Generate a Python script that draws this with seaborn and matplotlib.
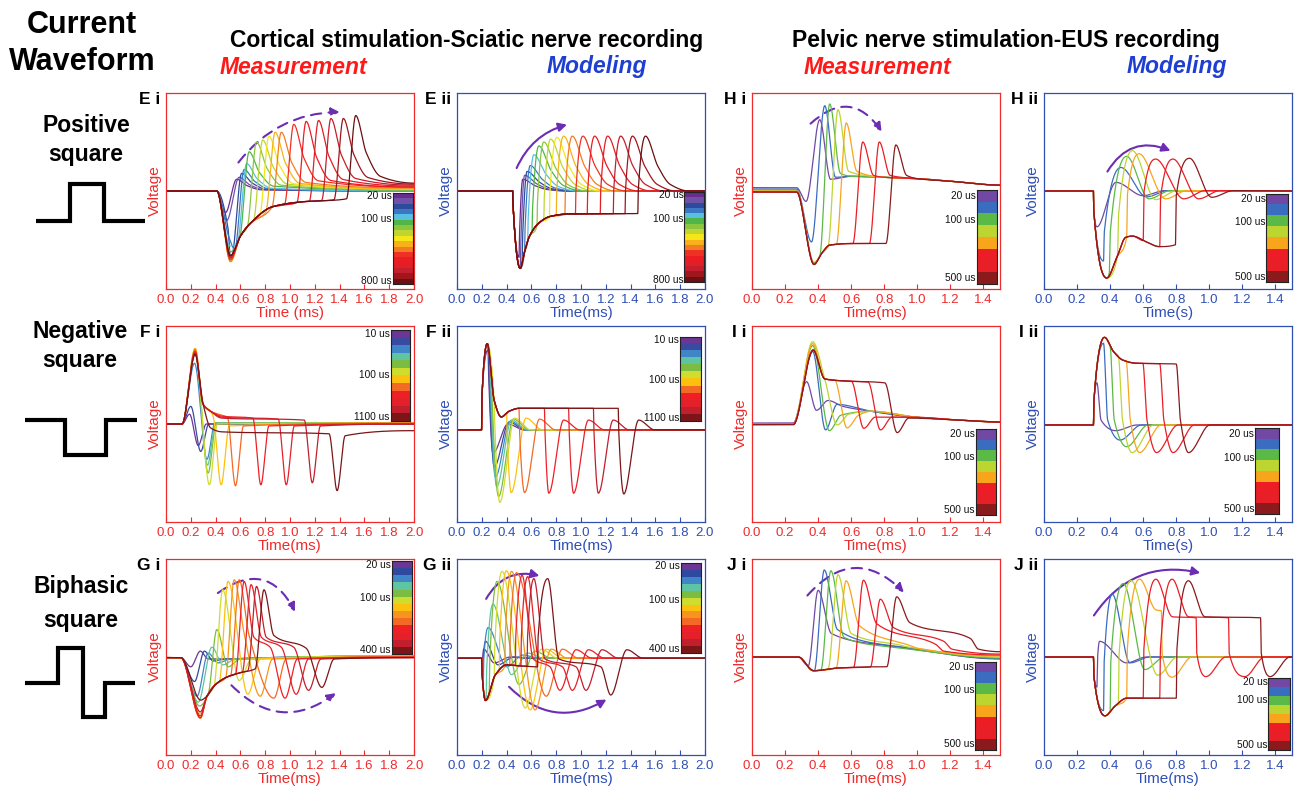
import numpy as np
import pandas as pd
import seaborn as sns
import matplotlib
matplotlib.use("Agg")
import matplotlib.pyplot as plt
from matplotlib.colors import ListedColormap
from matplotlib.patches import FancyArrowPatch
from matplotlib.ticker import FormatStrFormatter

sns.set_theme(style="white")
plt.rcParams["font.family"] = ["Liberation Sans", "DejaVu Sans"]
plt.rcParams["text.color"] = "black"

RED = "#ef2b2b"
BLUE = "#2f4fb5"
ARROW = "#6a2db3"
nan = float("nan")

# ---------------- palettes (pulse-width colour scales) ----------------
PAL17 = ["#6a2c91", "#6e52a8", "#2d4a9c", "#3b78c3", "#58bfe0", "#4fb647", "#8cc63f", "#bed62f", "#f6e617",
         "#f9b11b", "#f47c20", "#ee3124", "#ec1c24", "#e01f26", "#c51f2d", "#a0161d", "#6b1012"]
PAL8 = ["#7148a3", "#3a6cc0", "#5ab947", "#bdd531", "#f8a51c", "#ec1d24", "#e81f27", "#8b1a1d"]
PAL12 = ["#6c3694", "#3a4aa0", "#3f86c8", "#5ec4a1", "#7bbd42", "#cfdd2f", "#fcc10f", "#f26a23", "#ee2025",
         "#e4212a", "#c11f2e", "#7c1517"]
PAL13 = ["#6c3694", "#2f49a0", "#3f86c8", "#5ec4a1", "#7bbd42", "#cfdd2f", "#fcc10f", "#f7941d", "#f26a23",
         "#ee2025", "#e4212a", "#c11f2e", "#7c1517"]

# ---------------- data (time in ms, voltage as fraction of panel height) ----------------
# E i : cortical, positive square, measurement
EI_PEAK_T = [0.57, 0.59, 0.61, 0.63, 0.65, 0.67, 0.73, 0.78, 0.83, 0.88, 0.93, 1.03, 1.13, 1.23, 1.33, 1.43, 1.53]
EI_PEAK_V = [0.56, 0.57, 0.59, 0.61, 0.64, 0.70, 0.75, 0.76, 0.78, 0.80, 0.80, 0.84, 0.855, 0.86, 0.87, 0.87, 0.885]
EI_DIP_T = [0.48, 0.49, 0.50, 0.51, 0.515, 0.52, 0.52, 0.52, 0.52, 0.52, 0.52, 0.52, 0.52, 0.52, 0.52, 0.52, 0.52]
EI_DIP_V = [0.39, 0.35, 0.31, 0.26, 0.22, 0.19, 0.17, 0.16, 0.15, 0.14, 0.14, 0.15, 0.16, 0.16, 0.17, 0.17, 0.17]
EI_TAIL_V = [0.50, 0.50, 0.50, 0.50, 0.50, 0.505, 0.505, 0.51, 0.51, 0.51, 0.515, 0.52, 0.52, 0.525, 0.53, 0.535, 0.54]
EI_ENV_T = [0.52, 0.60, 0.68, 0.86, 1.10, 1.46]
EI_ENV_V = [0.15, 0.27, 0.335, 0.42, 0.445, 0.46]

# E ii : cortical, positive square, model
EII_END_T = [0.50, 0.51, 0.525, 0.545, 0.57, 0.605, 0.645, 0.70, 0.745, 0.80, 0.87, 0.955, 1.05, 1.155, 1.26, 1.355, 1.458]
EII_PEAK_T = [0.53, 0.545, 0.565, 0.59, 0.62, 0.66, 0.70, 0.755, 0.805, 0.86, 0.93, 1.015, 1.11, 1.215, 1.32, 1.415, 1.52]
EII_PEAK_V = [0.56, 0.58, 0.60, 0.63, 0.685, 0.73, 0.75, 0.765, 0.774, 0.78, 0.78, 0.78, 0.78, 0.78, 0.78, 0.78, 0.78]
EII_ENV_T = [0.451, 0.51, 0.545, 0.585, 0.666, 0.75, 0.90, 1.46]
EII_ENV_V = [0.44, 0.105, 0.19, 0.27, 0.34, 0.37, 0.383, 0.385]

# H i : pelvic, positive square, measurement
HI_BASE = [0.517, 0.51, 0.505, 0.50, 0.50, 0.495, 0.495, 0.495]
HI_DIP_T = [0.327, 0.36, 0.375, 0.375, 0.375, 0.375, 0.375, 0.375]
HI_DIP_V = [0.447, 0.24, 0.135, 0.13, 0.13, 0.127, 0.125, 0.125]
HI_PEAK_T = [0.41, 0.44, 0.47, 0.52, 0.57, 0.67, 0.77, 0.87]
HI_PEAK_V = [0.864, 0.935, 0.944, 0.915, 0.847, 0.75, 0.75, 0.735]
HI_POST_V = [0.56, 0.57, 0.59, 0.60, 0.60, 0.58, 0.58, 0.58]
HI_ENV_T = [0.375, 0.42, 0.47, 0.60, 0.83]
HI_ENV_V = [0.127, 0.18, 0.224, 0.232, 0.232]
HI_TAIL_T = [0.6, 0.8, 1.0, 1.2, 1.5]
HI_TAIL_V = [0.575, 0.57, 0.563, 0.55, 0.53]

# H ii : pelvic, positive square, model
HII_END_T = [0.32, 0.36, 0.395, 0.445, 0.50, 0.60, 0.70, 0.795]
HII_JUMP = [0.0, 0.15, 0.2, 0.2, 0.22, 0.25, 0.25, 0.25]
HII_PEAK_T = [0.435, 0.465, 0.50, 0.535, 0.575, 0.675, 0.78, 0.88]
HII_PEAK_V = [0.544, 0.62, 0.677, 0.706, 0.69, 0.663, 0.663, 0.667]
HII_TR_T = [0.60, 0.62, 0.635, 0.675, 0.735, 0.845, 0.935, 1.015]
HII_TR_V = [0.476, 0.47, 0.46, 0.456, 0.46, 0.46, 0.46, 0.468]
HII_ENV_T = [0.301, 0.38, 0.44, 0.495, 0.535, 0.62, 0.695, 0.80]
HII_ENV_V = [0.40, 0.056, 0.16, 0.264, 0.27, 0.24, 0.216, 0.226]

# F i : cortical, negative square, measurement
FI_P1_T = [0.19, 0.20, 0.23, 0.235, 0.235, 0.235, 0.235, 0.235, 0.235, 0.235, 0.235, 0.235]
FI_P1_V = [0.55, 0.59, 0.81, 0.86, 0.875, 0.886, 0.886, 0.88, 0.87, 0.865, 0.86, 0.855]
FI_TR_T = [0.26, 0.28, 0.33, 0.335, 0.34, 0.35, 0.445, 0.56, 0.765, 0.97, 1.18, 1.38]
FI_TR_V = [0.39, 0.36, 0.32, 0.29, 0.25, 0.19, 0.19, 0.185, 0.19, 0.19, 0.20, 0.16]
FI_MID_V = [nan, nan, nan, nan, nan, nan, 0.565, 0.565, 0.565, 0.565, 0.565, 0.48]
FI_PLAT_V = [nan, nan, nan, nan, nan, nan, 0.55, 0.545, 0.54, 0.535, 0.53, 0.46]
FI_REC_V = [0.50, 0.50, 0.505, 0.505, 0.505, 0.50, 0.49, 0.49, 0.49, 0.49, 0.49, 0.44]
FI_END_V = [0.50, 0.50, 0.505, 0.505, 0.505, 0.505, 0.505, 0.505, 0.50, 0.50, 0.50, 0.466]

# F ii : cortical, negative square, model
FII_DROP_T = [0.25, 0.255, 0.262, 0.27, 0.28, 0.30, 0.40, 0.50, 0.705, 0.90, 1.10, 1.30]
FII_TR_T = [0.29, 0.30, 0.31, 0.32, 0.335, 0.345, 0.437, 0.545, 0.74, 0.94, 1.14, 1.345]
FII_TR_V = [0.35, 0.28, 0.23, 0.18, 0.13, 0.10, 0.15, 0.15, 0.147, 0.147, 0.147, 0.143]
FII_OS_V = [0.50, 0.51, 0.515, 0.52, 0.525, 0.53, 0.53, 0.525, 0.52, 0.52, 0.52, 0.52]
FII_ENV_T = [0.202, 0.244, 0.30, 0.357, 0.42, 0.50, 1.32]
FII_ENV_V = [0.65, 0.91, 0.62, 0.536, 0.565, 0.58, 0.58]

# I i : pelvic, negative square, measurement
II_BASE = [0.505, 0.50, 0.50, 0.498, 0.498, 0.497, 0.497, 0.497]
II_PEAK_T = [0.33, 0.367, 0.367, 0.367, 0.367, 0.37, 0.37, 0.37]
II_PEAK_V = [0.716, 0.87, 0.90, 0.92, 0.91, 0.88, 0.877, 0.875]
II_TR_T = [0.39, 0.445, 0.468, 0.515, 0.575, 0.676, 0.777, 0.878]
II_TR_V = [0.57, 0.47, 0.466, 0.495, 0.48, 0.478, 0.47, 0.456]
II_BUMP_V = [0.62, 0.60, 0.545, 0.55, 0.545, 0.535, 0.535, 0.53]
II_PLAT_T = [0.44, 0.55, 0.80]
II_PLAT_V = [0.73, 0.72, 0.71]
II_TAIL_T = [0.55, 0.72, 1.0, 1.25, 1.5]
II_TAIL_V = [0.59, 0.565, 0.534, 0.52, 0.51]

# I ii : pelvic, negative square, model
III_DROP_T = [0.32, 0.36, 0.40, 0.45, 0.497, 0.598, 0.70, 0.80]
III_TR_T = [0.433, 0.46, 0.50, 0.533, 0.578, 0.68, 0.78, 0.874]
III_TR_V = [0.466, 0.418, 0.384, 0.354, 0.354, 0.354, 0.354, 0.354]
III_ENV_T = [0.302, 0.366, 0.42, 0.477, 0.557, 0.80]
III_ENV_V = [0.62, 0.942, 0.87, 0.826, 0.81, 0.806]

# G i : cortical, biphasic, measurement
GI_DIP_T = [0.20, 0.23, 0.25, 0.26, 0.27, 0.277, 0.277, 0.277, 0.277, 0.277, 0.277, 0.277, 0.28]
GI_DIP_V = [0.45, 0.375, 0.30, 0.27, 0.25, 0.21, 0.19, 0.187, 0.19, 0.19, 0.20, 0.22, 0.28]
GI_PEAK_T = [0.277, 0.31, 0.34, 0.37, 0.41, 0.457, 0.50, 0.55, 0.59, 0.63, 0.686, 0.73, 0.79]
GI_PEAK_V = [0.53, 0.53, 0.52, 0.55, 0.64, 0.843, 0.886, 0.894, 0.894, 0.886, 0.869, 0.86, 0.843]
GI_TR_T = [0.34, 0.38, 0.42, 0.46, 0.50, 0.59, 0.66, 0.76, 0.87, 0.96, 1.05, 1.15, 1.257]
GI_TR_V = [0.49, 0.48, 0.47, 0.46, 0.45, 0.38, 0.31, 0.30, 0.29, 0.29, 0.31, 0.33, 0.345]
GI_SH_T = [nan] * 7 + [0.63, 0.67, 0.71, 0.77, 0.81, 0.87]
GI_SH_V = [nan] * 7 + [0.62, 0.61, 0.60, 0.60, 0.60, 0.61]
GI_SH2_T = [nan] * 9 + [0.84, 0.93, 1.03, 1.13]
GI_SH2_V = [nan] * 9 + [0.55, 0.55, 0.55, 0.545]
GI_END_V = [0.505, 0.505, 0.505, 0.505, 0.505, 0.505, 0.50, 0.50, 0.50, 0.50, 0.497, 0.497, 0.497]
GI_ENV_T = [0.277, 0.33, 0.40, 0.50, 0.60, 0.72]
GI_ENV_V = [0.19, 0.30, 0.36, 0.40, 0.42, 0.44]

# G ii : cortical, biphasic, model
GII_UP_T = [0.203, 0.207, 0.212, 0.235, 0.26, 0.30, 0.34, 0.385, 0.425, 0.47, 0.515, 0.565, 0.65]
GII_JUMP = [0.08, 0.10, 0.12, 0.15, 0.15, 0.15, 0.15, 0.15, 0.15, 0.15, 0.15, 0.15, 0.15]
GII_PEAK_T = [0.215, 0.23, 0.25, 0.29, 0.323, 0.363, 0.398, 0.44, 0.48, 0.525, 0.57, 0.62, 0.732]
GII_PEAK_V = [0.54, 0.58, 0.65, 0.77, 0.886, 0.937, 0.94, 0.937, 0.93, 0.917, 0.91, 0.90, 0.90]
GII_TR_T = [0.30, 0.33, 0.40, 0.44, 0.50, 0.55, 0.59, 0.63, 0.72, 0.83, 0.93, 1.04, 1.24]
GII_TR_V = [0.47, 0.46, 0.45, 0.41, 0.36, 0.24, 0.23, 0.23, 0.30, 0.33, 0.33, 0.33, 0.306]
GII_OS_V = [0.50, 0.50, 0.51, 0.52, 0.53, 0.54, 0.54, 0.54, 0.54, 0.537, 0.537, 0.537, 0.537]
GII_ENV_T = [0.202, 0.23, 0.31, 0.40, 0.50, 0.65]
GII_ENV_V = [0.42, 0.278, 0.41, 0.46, 0.455, 0.45]

# J i : pelvic, biphasic, measurement
JI_PEAK_T = [0.40, 0.437, 0.477, 0.52, 0.569, 0.674, 0.776, 0.875]
JI_PEAK_V = [0.84, 0.944, 0.94, 0.92, 0.889, 0.892, 0.795, 0.807]
JI_SH_V = [0.62, 0.64, 0.60, 0.62, 0.66, 0.67, 0.65, 0.675]
JI_STEP_T = [0.80, 0.82, 0.85, 0.90, 0.95, 1.11, 1.16, 1.32]
JI_STEP_V = [0.56, 0.56, 0.55, 0.56, 0.56, 0.565, 0.58, 0.595]
JI_AFTER_V = [0.555, 0.555, 0.545, 0.55, 0.545, 0.53, 0.54, 0.54]
JI_END_V = [0.49, 0.492, 0.495, 0.50, 0.505, 0.51, 0.515, 0.527]
JI_ENV_T = [0.28, 0.372, 0.52, 0.76, 0.85]
JI_ENV_V = [0.50, 0.43, 0.444, 0.45, 0.45]

# J ii : pelvic, biphasic, model
JII_UP_T = [0.32, 0.36, 0.40, 0.45, 0.50, 0.60, 0.70, 0.80]
JII_JUMP = [0.15, 0.25, 0.25, 0.25, 0.25, 0.25, 0.25, 0.25]
JII_PEAK_T = [0.336, 0.413, 0.48, 0.527, 0.578, 0.677, 0.775, 0.874]
JII_PEAK_V = [0.58, 0.82, 0.875, 0.89, 0.897, 0.897, 0.897, 0.889]
JII_DOWN_T = [nan, nan, nan, nan, 0.71, 0.92, 1.116, 1.31]
JII_HOLD_V = [nan, nan, nan, nan, 0.735, 0.70, 0.70, 0.70]
JII_TR_T = [0.50, 0.52, 0.61, 0.688, 0.775, 0.98, 1.215, 1.368]
JII_TR_V = [0.47, 0.47, 0.436, 0.407, 0.397, 0.40, 0.40, 0.40]
JII_ENV_T = [0.302, 0.369, 0.43, 0.50, 0.81]
JII_ENV_V = [0.40, 0.20, 0.25, 0.29, 0.29]

# stimulus waveform icons
POS_T = [0, 1, 1, 2, 2, 3.2]
POS_L = [0, 0, 1, 1, 0, 0]
NEG_T = [0, 1.15, 1.15, 2.3, 2.3, 3.2]
NEG_L = [0, 0, -1, -1, 0, 0]
BIP_T = [0, 0.96, 0.96, 1.68, 1.68, 2.32, 2.32, 3.2]
BIP_L = [0, 0, 1, 1, -1, -1, 0, 0]


# ---------------- helpers ----------------
def env_until(et, ev, t0, t1):
    pts = [(t, v) for t, v in zip(et, ev) if t0 + 0.01 < t < t1 - 0.01]
    pts.append((t1, float(np.interp(t1, et, ev))))
    return pts


def smooth(pts, total):
    clean = [pts[0]]
    for t, v in pts[1:]:
        if t > clean[-1][0] + 1e-4:
            clean.append((t, v))
    x = np.array([p[0] for p in clean], float)
    y = np.array([p[1] for p in clean], float)
    h = np.diff(x)
    d = np.diff(y) / h
    n = len(x)
    m = np.zeros(n)
    for k in range(1, n - 1):
        if d[k - 1] * d[k] > 0:
            w1 = 2 * h[k] + h[k - 1]
            w2 = h[k] + 2 * h[k - 1]
            m[k] = (w1 + w2) / (w1 / d[k - 1] + w2 / d[k])
    xs, ys = [], []
    for k in range(n - 1):
        cnt = max(3, int(np.ceil(h[k] / total * 1500)))
        s = np.linspace(0, 1, cnt, endpoint=False)
        h00 = 2 * s ** 3 - 3 * s ** 2 + 1
        h10 = s ** 3 - 2 * s ** 2 + s
        h01 = -2 * s ** 3 + 3 * s ** 2
        h11 = s ** 3 - s ** 2
        xs.append(x[k] + s * h[k])
        ys.append(h00 * y[k] + h10 * h[k] * m[k] + h01 * y[k + 1] + h11 * h[k] * m[k + 1])
    xs.append([x[-1]])
    ys.append([y[-1]])
    return np.concatenate(xs), np.concatenate(ys)


# ---------------- curve builders ----------------
def build_Ei():
    out = []
    for i in range(len(EI_PEAK_T)):
        pt, pv, dt, dv, tl = EI_PEAK_T[i], EI_PEAK_V[i], EI_DIP_T[i], EI_DIP_V[i], EI_TAIL_V[i]
        pts = [(0, 0.5), (0.41, 0.5), (dt, dv)]
        rs = pt - 0.075
        if rs > dt + 0.03:
            pts += env_until(EI_ENV_T, EI_ENV_V, dt, rs)
        pts += [(pt, pv), (pt + 0.085, tl + (pv - tl) * 0.45), (pt + 0.2, tl + (pv - tl) * 0.1), (2.0, tl)]
        out.append(pts)
    return out


def build_Eii():
    out = []
    for i in range(len(EII_PEAK_T)):
        te, pt, pv = EII_END_T[i], EII_PEAK_T[i], EII_PEAK_V[i]
        pts = [(0, 0.5), (0.449, 0.5)] + env_until(EII_ENV_T, EII_ENV_V, 0.44, te)
        ev = pts[-1][1]
        pts += [(te + 0.004, ev + 0.12), (pt, pv), (pt + 0.1, 0.5 + (pv - 0.5) * 0.45),
                (pt + 0.2, 0.5 + (pv - 0.5) * 0.12), (pt + 0.35, 0.5), (2.0, 0.5)]
        out.append(pts)
    return out


def build_Hi():
    out = []
    for i in range(len(HI_PEAK_T)):
        b, dt, dv, pt, pv = HI_BASE[i], HI_DIP_T[i], HI_DIP_V[i], HI_PEAK_T[i], HI_PEAK_V[i]
        pts = [(0, b), (0.27, b), (dt, dv)]
        rs = pt - 0.06
        if rs > dt + 0.03:
            pts += env_until(HI_ENV_T, HI_ENV_V, dt, rs)
        pts += [(pt, pv), (pt + 0.065, HI_POST_V[i])]
        pts += [(t, v) for t, v in zip(HI_TAIL_T, HI_TAIL_V) if t > pt + 0.12]
        out.append(pts)
    return out


def build_Hii():
    out = []
    for i in range(len(HII_PEAK_T)):
        te = HII_END_T[i]
        pts = [(0, 0.5), (0.299, 0.5)] + env_until(HII_ENV_T, HII_ENV_V, 0.29, te)
        if HII_JUMP[i] > 0:
            pts.append((te + 0.005, pts[-1][1] + HII_JUMP[i]))
        tr = HII_TR_T[i]
        pts += [(HII_PEAK_T[i], HII_PEAK_V[i]), (tr, HII_TR_V[i]), (tr + 0.13, 0.502), (1.5, 0.5)]
        out.append(pts)
    return out


def build_Fi():
    out = []
    for i in range(len(FI_TR_T)):
        tr = FI_TR_T[i]
        pts = [(0, 0.5), (0.13, 0.5), (FI_P1_T[i], FI_P1_V[i])]
        if not np.isnan(FI_PLAT_V[i]):
            lim = tr - 0.065
            cand = [(0.30, 0.60), (0.36, FI_MID_V[i]), (0.45, FI_PLAT_V[i])]
            pts += [(t, v) for t, v in cand if t < lim - 0.01]
            pts.append((lim, FI_PLAT_V[i] - 0.01))
        pts += [(tr, FI_TR_V[i]), (tr + 0.065, FI_REC_V[i]), (2.0, FI_END_V[i])]
        out.append(pts)
    return out


def build_Fii():
    out = []
    for i in range(len(FII_TR_T)):
        td, tr = FII_DROP_T[i], FII_TR_T[i]
        pts = [(0, 0.47), (0.198, 0.47)] + env_until(FII_ENV_T, FII_ENV_V, 0.19, td)
        ev = pts[-1][1]
        pts += [(td + 0.004, ev - 0.11), (tr, FII_TR_V[i]), (tr + 0.12, FII_OS_V[i]), (tr + 0.25, 0.47), (2.0, 0.47)]
        out.append(pts)
    return out


def build_Ii():
    out = []
    for i in range(len(II_PEAK_T)):
        b, pt, pv, tr = II_BASE[i], II_PEAK_T[i], II_PEAK_V[i], II_TR_T[i]
        pts = [(0, b), (0.25, b), (pt, pv)]
        d = tr - 0.075
        if d > pt + 0.06:
            pts += env_until(II_PLAT_T, II_PLAT_V, pt, d)
        pts += [(tr, II_TR_V[i]), (tr + 0.07, II_BUMP_V[i])]
        pts += [(t, v) for t, v in zip(II_TAIL_T, II_TAIL_V) if t > tr + 0.14]
        out.append(pts)
    return out


def build_Iii():
    out = []
    for i in range(len(III_TR_T)):
        td, tr = III_DROP_T[i], III_TR_T[i]
        pts = [(0, 0.495), (0.299, 0.495)] + env_until(III_ENV_T, III_ENV_V, 0.29, td)
        pts += [(td + 0.025, 0.52), (tr, III_TR_V[i]), (tr + 0.13, 0.495), (1.5, 0.495)]
        out.append(pts)
    return out


def build_Gi():
    out = []
    for i in range(len(GI_PEAK_T)):
        dt, pt, tr = GI_DIP_T[i], GI_PEAK_T[i], GI_TR_T[i]
        pts = [(0, 0.497), (0.12, 0.497), (dt, GI_DIP_V[i])]
        rs = pt - 0.07
        if rs > dt + 0.04:
            pts += env_until(GI_ENV_T, GI_ENV_V, dt, rs)
        pts.append((pt, GI_PEAK_V[i]))
        if not np.isnan(GI_SH_T[i]):
            pts.append((GI_SH_T[i], GI_SH_V[i]))
        if not np.isnan(GI_SH2_T[i]):
            pts.append((GI_SH2_T[i], GI_SH2_V[i]))
        pts += [(tr, GI_TR_V[i]), (tr + 0.1, 0.49), (2.0, GI_END_V[i])]
        out.append(pts)
    return out


def build_Gii():
    out = []
    for i in range(len(GII_PEAK_T)):
        tu, pt, tr = GII_UP_T[i], GII_PEAK_T[i], GII_TR_T[i]
        pts = [(0, 0.494), (0.199, 0.494)] + env_until(GII_ENV_T, GII_ENV_V, 0.19, tu)
        ev = pts[-1][1]
        pts += [(tu + 0.004, ev + GII_JUMP[i]), (pt, GII_PEAK_V[i])]
        if tr - pt > 0.25:
            pts += [(pt + 0.09, 0.49), (tr - 0.08, 0.45)]
        pts += [(tr, GII_TR_V[i]), (tr + 0.13, GII_OS_V[i]), (tr + 0.26, 0.494), (2.0, 0.494)]
        out.append(pts)
    return out


def build_Ji():
    out = []
    for i in range(len(JI_PEAK_T)):
        pt = JI_PEAK_T[i]
        pts = [(0, 0.5), (0.28, 0.5)] + env_until(JI_ENV_T, JI_ENV_V, 0.28, pt - 0.06)
        pts += [(pt, JI_PEAK_V[i]), (pt + 0.08, JI_SH_V[i]), (JI_STEP_T[i], JI_STEP_V[i]),
                (JI_STEP_T[i] + 0.05, JI_AFTER_V[i]), (1.5, JI_END_V[i])]
        out.append(pts)
    return out


def build_Jii():
    out = []
    for i in range(len(JII_PEAK_T)):
        tu, pt, tr = JII_UP_T[i], JII_PEAK_T[i], JII_TR_T[i]
        pts = [(0, 0.5), (0.299, 0.5)] + env_until(JII_ENV_T, JII_ENV_V, 0.29, tu)
        ev = pts[-1][1]
        pts += [(tu + 0.004, ev + JII_JUMP[i]), (pt, JII_PEAK_V[i])]
        if not np.isnan(JII_DOWN_T[i]):
            hv, td = JII_HOLD_V[i], JII_DOWN_T[i]
            pts += [(pt + 0.1, hv + 0.005), (td, hv), (td + 0.004, 0.52)]
        pts.append((tr, JII_TR_V[i]))
        if tr + 0.12 < 1.5:
            pts += [(tr + 0.12, 0.5), (1.5, 0.5)]
        else:
            pts.append((1.5, 0.49))
        out.append(pts)
    return out


# ---------------- figure ----------------
FW, FH = 1295, 789
fig = plt.figure(figsize=(FW / 100, FH / 100), dpi=100)


def px_rect(left, top, right, bottom):
    return [left / FW, 1 - bottom / FH, (right - left) / FW, (bottom - top) / FH]


COL_LEFT = [166, 457, 752, 1044]
ROW_TOP = [93, 326, 559]
PW, PH = 248, 196

PANELS = [
    ("Ei", "E i", 0, 0, True, 2.0, "Time (ms)", build_Ei, PAL17, [0.915, 0.026, 0.080, 0.463], 0.29,
     ("20 us", "100 us", "800 us"), [((0.285, 0.634), (0.711, 0.903), -0.25)]),
    ("Eii", "E ii", 1, 0, False, 2.0, "Time(ms)", build_Eii, PAL17, [0.917, 0.034, 0.077, 0.459], 0.30,
     ("20 us", "100 us", "800 us"), [((0.236, 0.604), (0.454, 0.842), -0.25)]),
    ("Hi", "H i", 2, 0, True, 1.5, "Time(ms)", build_Hi, PAL8, [0.906, 0.025, 0.082, 0.478], 0.32,
     ("20 us", "100 us", "500 us"), [((0.228, 0.834), (0.529, 0.792), -0.6)]),
    ("Hii", "H ii", 3, 0, False, 1.5, "Time(s)", build_Hii, PAL8, [0.897, 0.034, 0.087, 0.451], 0.32,
     ("20 us", "100 us", "500 us"), [((0.25, 0.587), (0.52, 0.70), -0.45)]),
    ("Fi", "F i", 0, 1, True, 2.0, "Time(ms)", build_Fi, PAL12, [0.906, 0.517, 0.078, 0.463], 0.50,
     ("10 us", "100 us", "1100 us"), []),
    ("Fii", "F ii", 1, 1, False, 2.0, "Time(ms)", build_Fii, PAL12, [0.900, 0.514, 0.085, 0.430], 0.51,
     ("10 us", "100 us", "1100 us"), []),
    ("Ii", "I i", 2, 1, True, 1.5, "Time(ms)", build_Ii, PAL8, [0.902, 0.036, 0.083, 0.438], 0.32,
     ("20 us", "100 us", "500 us"), []),
    ("Iii", "I ii", 3, 1, False, 1.5, "Time(s)", build_Iii, PAL8, [0.851, 0.040, 0.095, 0.438], 0.34,
     ("20 us", "100 us", "500 us"), []),
    ("Gi", "G i", 0, 2, True, 2.0, "Time(ms)", build_Gi, PAL13, [0.911, 0.517, 0.082, 0.471], 0.40,
     ("20 us", "100 us", "400 us"),
     [((0.20, 0.818), (0.525, 0.719), -0.6), ((0.256, 0.366), (0.693, 0.324), 0.45)]),
    ("Gii", "G ii", 1, 2, False, 2.0, "Time(ms)", build_Gii, PAL13, [0.902, 0.521, 0.081, 0.459], 0.41,
     ("20 us", "100 us", "400 us"),
     [((0.112, 0.784), (0.343, 0.911), -0.4), ((0.202, 0.358), (0.612, 0.29), 0.4)]),
    ("Ji", "J i", 2, 2, True, 1.5, "Time(ms)", build_Ji, PAL8, [0.900, 0.026, 0.082, 0.449], 0.32,
     ("20 us", "100 us", "500 us"), [((0.216, 0.803), (0.62, 0.82), -0.55)]),
    ("Jii", "J ii", 3, 2, False, 1.5, "Time(ms)", build_Jii, PAL8, [0.905, 0.026, 0.085, 0.367], 0.31,
     ("20 us", "100 us", "500 us"), [((0.195, 0.70), (0.641, 0.926), -0.35)]),
]

for (key, label, col, row, measured, xmax, xlabel, builder, pal, cbr, midpos, cblabels, arrows) in PANELS:
    left = COL_LEFT[col]
    top = ROW_TOP[row]
    ax = fig.add_axes(px_rect(left, top, left + PW, top + PH))
    fcol = RED if measured else BLUE
    curves = builder()
    frames = []
    for i, pts in enumerate(curves):
        x, y = smooth(pts, xmax)
        frames.append(pd.DataFrame({"t": x, "v": y, "curve": f"c{i:02d}"}))
    df = pd.concat(frames, ignore_index=True)
    names = [f"c{i:02d}" for i in range(len(curves))]
    sns.lineplot(data=df, x="t", y="v", hue="curve", hue_order=names,
                 palette=dict(zip(names, pal)), estimator=None, sort=False, legend=False,
                 linewidth=0.9, ax=ax)
    ax.set_xlim(0, xmax)
    ax.set_ylim(0, 1)
    ax.set_xticks(np.arange(0, xmax + 0.001, 0.2))
    ax.xaxis.set_major_formatter(FormatStrFormatter("%.1f"))
    ax.set_yticks([])
    ax.tick_params(axis="x", direction="in", length=3.5, width=0.8, color=fcol, labelcolor=fcol,
                   labelsize=9.5, pad=3.5, bottom=True, top=False)
    for sp in ax.spines.values():
        sp.set_visible(True)
        sp.set_color(fcol)
        sp.set_linewidth(0.9)
    ax.set_xlabel(xlabel, color=fcol, fontsize=11, labelpad=0)
    ax.set_ylabel("Voltage", color=fcol, fontsize=11, labelpad=3)
    ax.text(-0.022, 0.965, label, transform=ax.transAxes, ha="right", va="center",
            fontsize=12.5, fontweight="bold", color="black")

    # pulse-width colour scale
    cax = ax.inset_axes(cbr)
    n = len(pal)
    cax.imshow(np.arange(n)[:, None], cmap=ListedColormap(pal), aspect="auto", interpolation="nearest")
    cax.set_xticks([])
    cax.set_yticks([])
    for sp in cax.spines.values():
        sp.set_visible(True)
        sp.set_color("#222222")
        sp.set_linewidth(0.8)
    lx = cbr[0] - 0.004
    y_top = cbr[1] + cbr[3] * (1 - 0.5 / n)
    y_mid = cbr[1] + cbr[3] * (1 - midpos)
    y_bot = cbr[1] + cbr[3] * (0.5 / n)
    for yy, txt in zip((y_top, y_mid, y_bot), cblabels):
        ax.text(lx, yy, txt, transform=ax.transAxes, ha="right", va="center", fontsize=7.3, color="#111111")

    # trend arrows
    for (p0, p1, rad) in arrows:
        arr = FancyArrowPatch(p0, p1, transform=ax.transAxes, connectionstyle=f"arc3,rad={rad}",
                              arrowstyle="-|>,head_length=5,head_width=2.6", color=ARROW, lw=1.5,
                              linestyle=(0, (5, 3.5)) if measured else "-", mutation_scale=1)
        ax.add_patch(arr)


# ---------------- headers ----------------
def ftext(x, y, s, **kw):
    fig.text(x / FW, 1 - y / FH, s, ha="center", va="center", **kw)


ftext(82, 25, "Current", fontsize=22, fontweight="bold")
ftext(82, 62, "Waveform", fontsize=22, fontweight="bold")
ftext(467, 40, "Cortical stimulation-Sciatic nerve recording", fontsize=16.5, fontweight="bold")
ftext(1006, 40, "Pelvic nerve stimulation-EUS recording", fontsize=16.5, fontweight="bold")
ftext(293, 67, "Measurement", fontsize=16.5, fontweight="bold", fontstyle="italic", color="#ff1a1a")
ftext(597, 67, "Modeling", fontsize=16.5, fontweight="bold", fontstyle="italic", color="#1f3fd0")
ftext(877, 67, "Measurement", fontsize=16.5, fontweight="bold", fontstyle="italic", color="#ff1a1a")
ftext(1177, 67, "Modeling", fontsize=16.5, fontweight="bold", fontstyle="italic", color="#1f3fd0")

ftext(86, 126, "Positive", fontsize=16.5, fontweight="bold")
ftext(86, 155, "square", fontsize=16.5, fontweight="bold")
ftext(80, 331, "Negative", fontsize=16.5, fontweight="bold")
ftext(80, 360, "square", fontsize=16.5, fontweight="bold")
ftext(81, 587, "Biphasic", fontsize=16.5, fontweight="bold")
ftext(81, 621, "square", fontsize=16.5, fontweight="bold")

# ---------------- stimulus waveform icons ----------------
ICONS = [
    (POS_T, POS_L, (36, 184, 145, 221), (0, 1)),
    (NEG_T, NEG_L, (25, 420, 137, 455), (-1, 0)),
    (BIP_T, BIP_L, (25, 648, 135, 717), (-1, 1)),
]
for tt, ll, (l, t, r, b), ylim in ICONS:
    iax = fig.add_axes(px_rect(l, t, r, b))
    sns.lineplot(x=tt, y=ll, sort=False, estimator=None, color="black", linewidth=3.0, ax=iax)
    for ln in iax.lines:
        ln.set_clip_on(False)
        ln.set_solid_joinstyle("miter")
        ln.set_solid_capstyle("butt")
    iax.set_xlim(0, 3.2)
    iax.set_ylim(*ylim)
    iax.axis("off")

fig.savefig("out.png", dpi=100)
